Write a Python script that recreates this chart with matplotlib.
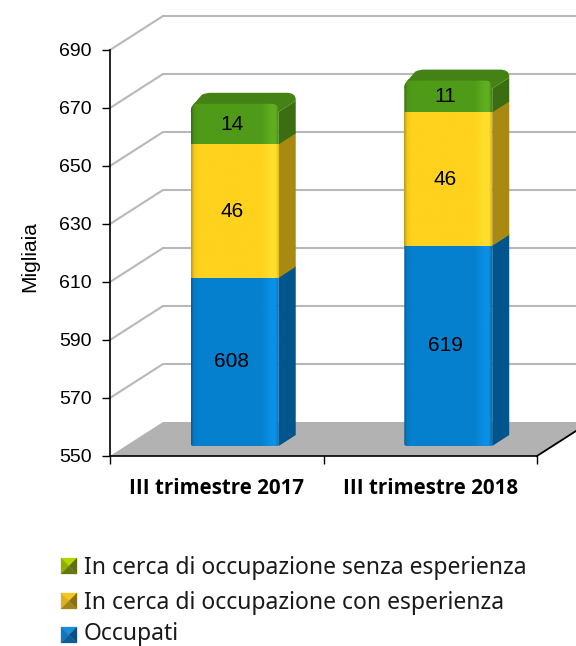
import numpy as np
import matplotlib
matplotlib.use('Agg')
import matplotlib.pyplot as plt
from matplotlib.patches import PathPatch, Polygon
from matplotlib.path import Path
from matplotlib.transforms import IdentityTransform
from matplotlib.colors import to_rgb

categories = ['III trimestre 2017', 'III trimestre 2018']
occupati = [608, 619]
con_esperienza = [46, 46]
senza_esperienza = [14, 11]
series_names = ['Occupati', 'In cerca di occupazione con esperienza',
                'In cerca di occupazione senza esperienza']
y_ticks = [550, 570, 590, 610, 630, 650, 670, 690]

W, H = 576, 646
fig = plt.figure(figsize=(W / 100, H / 100), dpi=100, facecolor='white')
# axes box in pixels of the picture: x 110-537, y 50-456
ax = fig.add_axes([110 / W, 1 - 456 / H, 427 / W, 406 / H])
ax.set_xlim(0, 2)
ax.set_ylim(550, 690)
ax.set_facecolor('none')
ax.set_zorder(5)
for s in ['top', 'right']:
    ax.spines[s].set_visible(False)
ax.spines['left'].set_linewidth(1.2)
ax.spines['bottom'].set_linewidth(1.2)
ax.set_yticks(y_ticks)
ax.set_xticks([0, 1, 2])
ax.set_xticklabels([])
ax.tick_params(axis='y', length=6, width=1, labelsize=14, pad=7)
ax.tick_params(axis='x', length=6, width=1)
for lab in ax.get_yticklabels():
    lab.set_family('Liberation Sans')
    lab.set_color('black')
fig.canvas.draw()

# bottom layer for the fake 3D parts, same pixels as the figure
bg = fig.add_axes([0, 0, 1, 1], zorder=1)
bg.set_xlim(0, W)
bg.set_ylim(0, H)
bg.axis('off')


def px(x, v, dx=0, dy=0):
    # data position -> display pixels, shifted towards the back of the box
    p = ax.transData.transform((x, v))
    return p[0] + dx, p[1] + dy


tr = IdentityTransform()
DEPTH = (53, 34)

# floor
a = px(0, 550)
b = px(2, 550)
bg.add_patch(Polygon([a, b, (b[0] + DEPTH[0], b[1] + DEPTH[1]), (a[0] + DEPTH[0], a[1] + DEPTH[1])],
                     closed=True, fc='#B2B2B2', ec='none', transform=tr, zorder=1))
bg.plot([b[0], b[0] + DEPTH[0]], [b[1], b[1] + DEPTH[1]], color='black', lw=1.3, transform=tr, zorder=2)

# grid on the side wall and back wall
for t in y_ticks[1:]:
    p0 = px(0, t)
    p1 = (p0[0] + DEPTH[0], p0[1] + DEPTH[1])
    bg.plot([p0[0], p1[0], W + 5], [p0[1], p1[1], p1[1]], color='#B8B8B8', lw=1.5,
            transform=tr, zorder=1, solid_joinstyle='miter')

OFF = (18, 10)
SIDE = (17, 11)
WIDTH = 0.412
colors = [('#0580CE', '#0A90E6', '#00558D'),
          ('#FFD21E', '#FFDF2C', '#A88A13'),
          ('#4F9A18', '#5FAE20', '#3A6E10')]
TOP_COLOR = '#458216'


def gradient(base, light):
    # horizontal shading of a front face
    base = np.array(to_rgb(base))
    light = np.array(to_rgb(light))
    pos = [0, 0.03, 0.08, 0.8, 0.92, 0.97, 1]
    rows = [base * 0.75, base * 0.95, base, base, light, light, base * 0.9]
    xs = np.linspace(0, 1, 90)
    img = np.array([[np.interp(x, pos, [r[c] for r in rows]) for c in range(3)] for x in xs])
    return img[np.newaxis, :, :]


for i in range(len(categories)):
    cx = i + 0.5
    left = cx - WIDTH / 2
    right = cx + WIDTH / 2
    tops = np.cumsum([occupati[i], con_esperienza[i], senza_esperienza[i]])
    levels = [550] + [float(t) for t in tops]
    values = [occupati[i], con_esperienza[i], senza_esperienza[i]]

    for k in range(3):
        lo, hi = levels[k], levels[k + 1]
        l, bot = px(left, lo, *OFF)
        r, top = px(right, hi, *OFF)
        rr = 7
        if k == 2:
            verts = [(l, bot), (l, top - rr), (l, top), (l + rr, top), (r - rr, top), (r, top), (r, top - rr), (r, bot), (l, bot)]
            codes = [Path.MOVETO, Path.LINETO, Path.CURVE3, Path.CURVE3, Path.LINETO, Path.CURVE3, Path.CURVE3, Path.LINETO, Path.CLOSEPOLY]
        else:
            # one pixel higher so no white seam shows under the next segment
            top = top + 1
            if k == 0:
                verts = [(l, bot + 2), (l, top), (r, top), (r, bot + 1), (r, bot), (r - 3, bot), (l + 3, bot), (l, bot), (l, bot + 2)]
                codes = [Path.MOVETO, Path.LINETO, Path.LINETO, Path.LINETO, Path.CURVE3, Path.CURVE3, Path.LINETO, Path.CURVE3, Path.CURVE3]
            else:
                verts = [(l, bot), (l, top), (r, top), (r, bot), (l, bot)]
                codes = [Path.MOVETO, Path.LINETO, Path.LINETO, Path.LINETO, Path.CLOSEPOLY]
        face = PathPatch(Path(verts, codes), fc='none', ec='none', transform=tr, zorder=4 + k * 0.1)
        bg.add_patch(face)
        im = bg.imshow(gradient(colors[k][0], colors[k][1]), extent=(l, r, bot, top), aspect='auto',
                       zorder=4 + k * 0.1, interpolation='bilinear')
        im.set_clip_path(face)

        # side face, the green one stops under the rounded top
        if k == 2:
            sd = [(r, bot), (r, top - 8), (r + SIDE[0], top + 3), (r + SIDE[0], bot + SIDE[1])]
        else:
            sd = [(r, bot), (r, top), (r + SIDE[0], top + SIDE[1]), (r + SIDE[0], bot + SIDE[1])]
        bg.add_patch(Polygon(sd, closed=True, fc=colors[k][2], ec='none', transform=tr, zorder=3 + k * 0.1))

        lx, ly = px(cx, (lo + hi) / 2, *OFF)
        bg.text(lx - 3, ly, str(values[k]), transform=tr, ha='center', va='center', fontsize=15,
                family='Liberation Sans', color='black', zorder=6)

    # rounded top of the bar
    l, top = px(left, levels[3], *OFF)
    r, _ = px(right, levels[3], *OFF)
    sx, sy = SIDE
    verts = [(l, top - 7), (l + 1, top - 1), (l + 5, top + 2), (l + sx - 6, top + sy - 2), (l + sx - 2, top + sy), (l + sx + 3, top + sy),
             (r + sx - 9, top + sy), (r + sx, top + sy), (r + sx, top + sy - 7), (r + sx, top + 3), (r, top - 8), (l, top - 8), (l, top - 7)]
    codes = [Path.MOVETO, Path.CURVE3, Path.CURVE3, Path.LINETO, Path.CURVE3, Path.CURVE3,
             Path.LINETO, Path.CURVE3, Path.CURVE3, Path.LINETO, Path.LINETO, Path.LINETO, Path.CLOSEPOLY]
    bg.add_patch(PathPatch(Path(verts, codes), fc=TOP_COLOR, ec='none', transform=tr, zorder=3.5))

bg.set_xlim(0, W)
bg.set_ylim(0, H)

# category labels
for i, c in enumerate(categories):
    x, _ = px(i + 0.5, 550)
    fig.text(x / W, 1 - 489 / H, c, ha='center', va='center', fontsize=14.8, fontweight='bold',
             family='Open Sans', color='black', zorder=7)

fig.text(30 / W, 1 - 257 / H, 'Migliaia', rotation=90, ha='center', va='center', fontsize=15,
         family='Liberation Sans', color='black')

# legend with pyramid style swatches, text offset keeps the last descender inside the picture
legend_rows = [(566, 2, 2, ('#B2D600', '#8FB000', '#5E6E10', '#66780E')),
               (601, 1, 2, ('#F2C81C', '#DDB020', '#8A6E14', '#A08418')),
               (635, 0, -1, ('#1B8CD8', '#0F78BE', '#0A4F80', '#0B5F98'))]
for yy, k, shift, sw in legend_rows:
    x0, x1 = 61, 77
    y0, y1 = H - yy - 8, H - yy + 8
    mid = ((x0 + x1) / 2, (y0 + y1) / 2)
    tris = [[(x0, y1), (x1, y1), mid], [(x0, y0), (x0, y1), mid],
            [(x1, y0), (x1, y1), mid], [(x0, y0), (x1, y0), mid]]
    for tri, col in zip(tris, sw):
        bg.add_patch(Polygon(tri, closed=True, fc=col, ec=col, lw=0.2, transform=tr, zorder=4))
    fig.text(84 / W, 1 - (yy + shift) / H, series_names[k], ha='left', va='center', fontsize=16.5,
             family='Noto Sans', color='#1a1a1a')

fig.savefig('out.png', dpi=100, facecolor='white')
